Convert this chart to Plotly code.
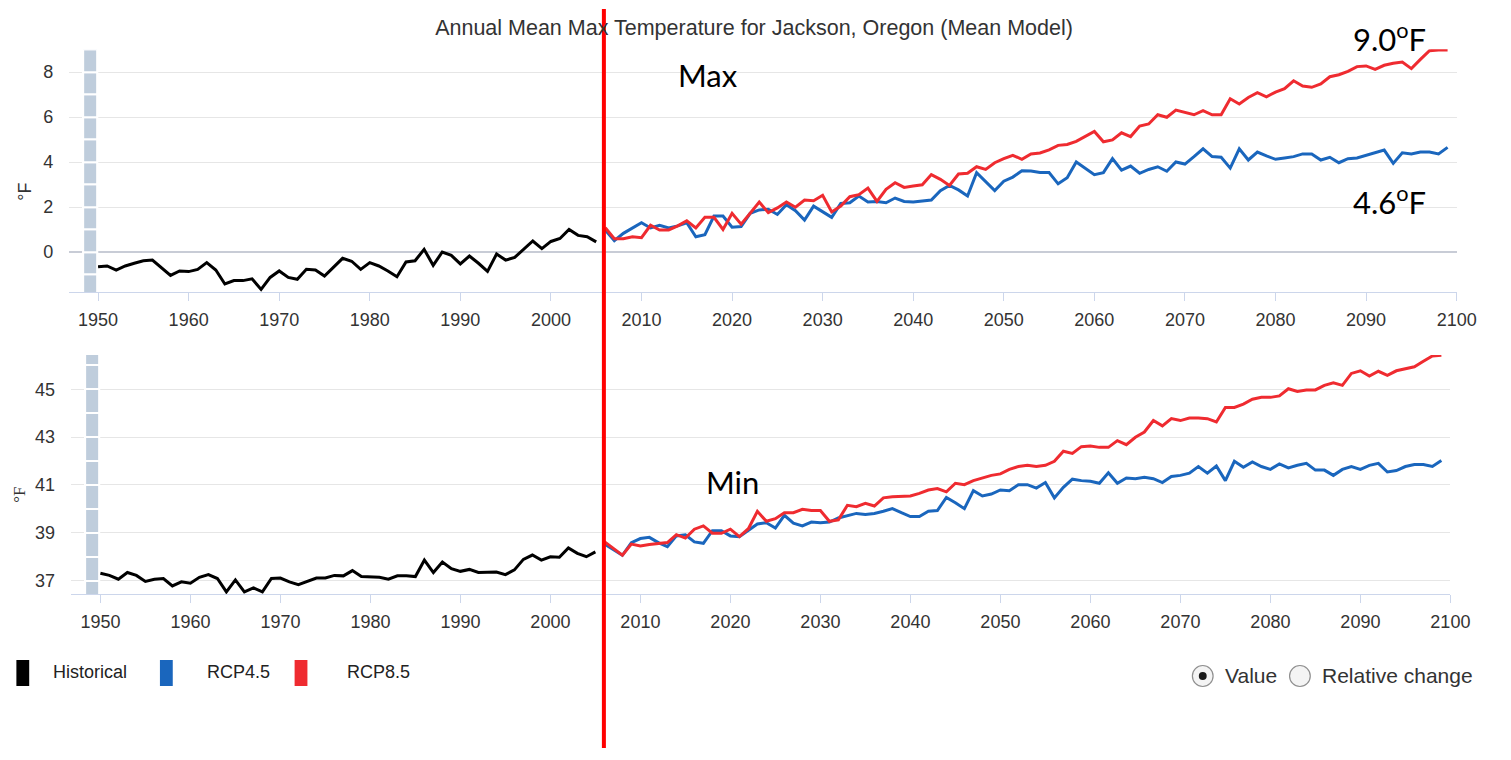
import math
import plotly.graph_objects as go

# ---------------- data ----------------
years_hist = list(range(1950, 2006))
years_proj = list(range(2006, 2100))
x_ticks = list(range(1950, 2101, 10))

tmax_hist = [-0.65, -0.62, -0.80, -0.62, -0.50, -0.39, -0.36, -0.70, -1.04, -0.84,
             -0.87, -0.77, -0.47, -0.80, -1.42, -1.27, -1.27, -1.19, -1.66, -1.13,
             -0.84, -1.13, -1.21, -0.77, -0.80, -1.07, -0.68, -0.28, -0.41, -0.77,
             -0.47, -0.62, -0.84, -1.10, -0.44, -0.39, 0.12, -0.59, 0.00, -0.15,
             -0.53, -0.18, -0.50, -0.86, -0.09, -0.36, -0.24, 0.12, 0.49, 0.15,
             0.47, 0.60, 1.00, 0.74, 0.68, 0.45]

tmax_rcp45 = [0.98, 0.50, 0.83, 1.08, 1.30, 1.07, 1.19, 1.07, 1.16, 1.30,
              0.68, 0.77, 1.60, 1.60, 1.10, 1.13, 1.72, 1.87, 1.90, 1.67,
              2.10, 1.84, 1.42, 2.04, 1.78, 1.54, 2.16, 2.19, 2.49, 2.22,
              2.25, 2.19, 2.40, 2.25, 2.22, 2.28, 2.31, 2.73, 2.96, 2.76,
              2.49, 3.53, 3.13, 2.73, 3.15, 3.33, 3.61, 3.60, 3.53, 3.53,
              3.03, 3.30, 4.00, 3.72, 3.44, 3.53, 4.15, 3.64, 3.82, 3.50,
              3.67, 3.79, 3.59, 4.00, 3.91, 4.24, 4.59, 4.24, 4.21, 3.73,
              4.59, 4.09, 4.44, 4.27, 4.12, 4.18, 4.24, 4.36, 4.36, 4.09,
              4.21, 3.97, 4.15, 4.18, 4.30, 4.41, 4.53, 3.94, 4.41, 4.36,
              4.44, 4.44, 4.36, 4.65]

tmax_rcp85 = [1.08, 0.59, 0.59, 0.68, 0.64, 1.19, 0.98, 0.98, 1.16, 1.39,
              1.07, 1.54, 1.54, 1.00, 1.72, 1.24, 1.72, 2.22, 1.75, 1.96,
              2.22, 1.99, 2.31, 2.28, 2.52, 1.78, 2.04, 2.46, 2.55, 2.84,
              2.25, 2.79, 3.08, 2.87, 2.93, 2.99, 3.44, 3.23, 2.96, 3.47,
              3.50, 3.79, 3.67, 3.97, 4.15, 4.30, 4.12, 4.36, 4.40, 4.54,
              4.74, 4.78, 4.92, 5.13, 5.36, 4.90, 4.98, 5.30, 5.13, 5.60,
              5.69, 6.10, 5.99, 6.31, 6.19, 6.10, 6.28, 6.10, 6.10, 6.81,
              6.58, 6.87, 7.08, 6.90, 7.11, 7.26, 7.61, 7.38, 7.32, 7.47,
              7.79, 7.88, 8.03, 8.24, 8.27, 8.12, 8.30, 8.39, 8.44, 8.15,
              8.56, 8.95, 8.98, 8.98]

tmin_hist = [37.31, 37.22, 37.06, 37.34, 37.22, 36.97, 37.06, 37.09, 36.78, 36.95,
             36.89, 37.14, 37.25, 37.09, 36.53, 37.03, 36.53, 36.70, 36.53, 37.09,
             37.11, 36.95, 36.83, 36.97, 37.11, 37.11, 37.22, 37.20, 37.42, 37.17,
             37.17, 37.14, 37.06, 37.20, 37.20, 37.17, 37.86, 37.34, 37.78, 37.50,
             37.39, 37.47, 37.34, 37.34, 37.36, 37.25, 37.45, 37.89, 38.07, 37.86,
             38.00, 37.98, 38.37, 38.14, 38.00, 38.20]

tmin_rcp45 = [38.53, 38.28, 38.06, 38.59, 38.76, 38.81, 38.59, 38.42, 38.87, 38.92,
              38.62, 38.56, 39.09, 39.09, 38.87, 38.84, 39.12, 39.37, 39.42, 39.20,
              39.73, 39.40, 39.29, 39.45, 39.42, 39.45, 39.62, 39.73, 39.81, 39.76,
              39.81, 39.90, 40.01, 39.84, 39.68, 39.68, 39.90, 39.93, 40.48, 40.26,
              40.01, 40.76, 40.54, 40.62, 40.79, 40.76, 41.01, 41.01, 40.87, 41.10,
              40.46, 40.90, 41.24, 41.18, 41.15, 41.07, 41.51, 41.07, 41.29, 41.26,
              41.32, 41.26, 41.10, 41.35, 41.40, 41.49, 41.77, 41.49, 41.79, 41.18,
              41.99, 41.74, 41.96, 41.77, 41.65, 41.88, 41.71, 41.82, 41.90, 41.62,
              41.62, 41.40, 41.65, 41.77, 41.65, 41.82, 41.90, 41.54, 41.60, 41.77,
              41.85, 41.85, 41.77, 42.02]

tmin_rcp85 = [38.63, 38.35, 38.06, 38.53, 38.45, 38.51, 38.56, 38.59, 38.92, 38.78,
              39.15, 39.29, 38.98, 38.98, 39.15, 38.84, 39.17, 39.90, 39.48, 39.59,
              39.84, 39.84, 39.98, 39.93, 39.93, 39.48, 39.54, 40.15, 40.09, 40.23,
              40.12, 40.46, 40.51, 40.54, 40.54, 40.65, 40.79, 40.85, 40.71, 41.07,
              41.01, 41.18, 41.29, 41.40, 41.46, 41.65, 41.77, 41.82, 41.77, 41.82,
              41.99, 42.41, 42.32, 42.60, 42.63, 42.57, 42.57, 42.85, 42.68, 42.99,
              43.21, 43.69, 43.47, 43.77, 43.69, 43.80, 43.80, 43.77, 43.63, 44.24,
              44.24, 44.38, 44.58, 44.66, 44.66, 44.72, 45.02, 44.91, 44.97, 44.97,
              45.16, 45.27, 45.16, 45.66, 45.77, 45.55, 45.75, 45.58, 45.77, 45.86,
              45.94, 46.17, 46.39, 46.42]

series_names = ["Historical", "RCP4.5", "RCP8.5"]
series_colors = ["#000000", "#1a66bd", "#ef2b30"]

top_range = [-1.79, 9.01]
bot_range = [36.43, 46.43]

# ---------------- figure ----------------
# the page body has an 8px margin, so the figure is sized to fit the window
OFF = 8
FW, FH = 1490, 740
fig = go.Figure()


def px_x(p):
    return (p - OFF) / FW


def px_y(p):
    return 1 - (p - OFF) / FH


# band columns at the left edge of each panel
for yref, xref, rng in [("y", "x", top_range), ("y2", "x2", bot_range)]:
    bases = list(range(math.floor(rng[0]), math.ceil(rng[1])))
    fig.add_trace(go.Bar(
        x=[1949.1] * len(bases), y=[1] * len(bases), base=bases, width=1.5,
        marker=dict(color="#bfcddc", line=dict(color="white", width=2)),
        xaxis=xref, yaxis=yref, showlegend=False, hoverinfo="skip"))

panels = [
    ("x", "y", tmax_hist, tmax_rcp45, tmax_rcp85),
    ("x2", "y2", tmin_hist, tmin_rcp45, tmin_rcp85),
]
for xa, ya, h, r45, r85 in panels:
    for name, col, xs, ys in [
        (series_names[0], series_colors[0], years_hist, h),
        (series_names[1], series_colors[1], years_proj, r45),
        (series_names[2], series_colors[2], years_proj, r85),
    ]:
        fig.add_trace(go.Scatter(
            x=xs, y=ys, mode="lines", name=name,
            line=dict(color=col, width=3), cliponaxis=False,
            xaxis=xa, yaxis=ya, showlegend=False))

tickfont = dict(family="Liberation Sans, Arial, sans-serif", size=18, color="#333333")

xcommon = dict(
    tickmode="array", tickvals=x_ticks, ticktext=[str(t) for t in x_ticks],
    showgrid=False, zeroline=False, showline=True, linecolor="#ccd6eb", linewidth=1,
    ticks="outside", ticklen=8, tickcolor="#ccd6eb", tickwidth=1,
    tickfont=tickfont, ticklabelstandoff=3, fixedrange=True)

ycommon = dict(
    showgrid=True, gridcolor="#e6e6e6", gridwidth=1, showline=False, ticks="",
    tickfont=tickfont, ticklabelstandoff=15, fixedrange=True)

fig.update_layout(
    width=FW, height=FH, autosize=False,
    margin=dict(l=0, r=0, t=0, b=0),
    paper_bgcolor="white", plot_bgcolor="white",
    barmode="overlay", bargap=0,
    showlegend=False,
    title=dict(text="Annual Mean Max Temperature for Jackson, Oregon (Mean Model)",
               x=px_x(754), xanchor="center", y=px_y(27), yanchor="middle",
               font=dict(family="Liberation Sans, Arial, sans-serif", size=21.5, color="#333333")),
    xaxis=dict(domain=[px_x(70), px_x(1477)], range=[1946.81, 2100.07], anchor="y", **xcommon),
    yaxis=dict(domain=[px_y(292.3), px_y(49.3)], range=top_range, anchor="x",
               tickmode="array", tickvals=[0, 2, 4, 6, 8],
               zeroline=True, zerolinecolor="#c8ccd6", zerolinewidth=2, **ycommon),
    xaxis2=dict(domain=[px_x(72), px_x(1470)], range=[1946.75, 2100.0], anchor="y2", **xcommon),
    yaxis2=dict(domain=[px_y(594.3), px_y(355)], range=bot_range, anchor="x2",
                tickmode="array", tickvals=[37, 39, 41, 43, 45],
                zeroline=False, **ycommon),
)

shapes = []
annotations = []

# axis titles
annotations.append(dict(text="°F", x=px_x(25), y=px_y(192), xref="paper", yref="paper",
                        xanchor="center", yanchor="middle", showarrow=False, textangle=-90,
                        font=dict(family="Liberation Sans, Arial, sans-serif", size=18, color="#333333")))
annotations.append(dict(text="°F", x=px_x(19), y=px_y(495), xref="paper", yref="paper",
                        xanchor="center", yanchor="middle", showarrow=False, textangle=-90,
                        font=dict(family="Liberation Serif, serif", size=17, color="#333333")))

# callouts
big = dict(family="Lato, Carlito, sans-serif", size=31, color="#000000")
callouts = [
    dict(text="Max", x=px_x(685), y=px_y(75), xanchor="left", yanchor="middle"),
    dict(text="Min", x=px_x(713), y=px_y(482), xanchor="left", yanchor="middle"),
    dict(text="9.0<sup>o</sup>F", x=px_x(1369), y=px_y(37), xanchor="left", yanchor="middle"),
    dict(text="4.6<sup>o</sup>F", x=px_x(1369), y=px_y(200), xanchor="left", yanchor="middle"),
]
for a in callouts:
    a.update(xref="paper", yref="paper", showarrow=False, font=big)
annotations += callouts

# red divider line
shapes.append(dict(type="line", xref="paper", yref="paper",
                   x0=px_x(612), x1=px_x(612), y0=px_y(9), y1=0,
                   line=dict(color="#ff0000", width=4)))

# legend (manual, rectangle swatches)
legend_font = dict(family="Liberation Sans, Arial, sans-serif", size=18, color="#222222")
swatch_x = [23.0, 168.5, 305.0]
text_x = [52.0, 207.6, 350.0]
for name, col, sx, tx in zip(series_names, series_colors, swatch_x, text_x):
    shapes.append(dict(type="rect", xref="paper", yref="paper",
                       x0=px_x(sx - 6.5), x1=px_x(sx + 6.5), y0=px_y(686), y1=px_y(660),
                       fillcolor=col, line=dict(width=0)))
    annotations.append(dict(text=name, x=px_x(tx), y=px_y(672), xref="paper", yref="paper",
                            xanchor="left", yanchor="middle", showarrow=False, font=legend_font))

# radio buttons
radio_font = dict(family="Liberation Sans, Arial, sans-serif", size=21, color="#333333")
for cx, label, lx, sel in [(1219, "Value", 1240, True), (1317.5, "Relative change", 1338.3, False)]:
    r = 10.5
    shapes.append(dict(type="circle", xref="paper", yref="paper",
                       x0=px_x(cx - r), x1=px_x(cx + r), y0=px_y(676 + r), y1=px_y(676 - r),
                       fillcolor="#f4f4f4", line=dict(color="#8f8f8f", width=1.2)))
    if sel:
        rr = 4
        shapes.append(dict(type="circle", xref="paper", yref="paper",
                           x0=px_x(cx - rr), x1=px_x(cx + rr), y0=px_y(676 + rr), y1=px_y(676 - rr),
                           fillcolor="#1a1a1a", line=dict(width=0)))
    annotations.append(dict(text=label, x=px_x(lx), y=px_y(675), xref="paper", yref="paper",
                            xanchor="left", yanchor="middle", showarrow=False, font=radio_font))

fig.update_layout(shapes=shapes, annotations=annotations)

fig.write_html("out.html", include_plotlyjs=True, config={"displayModeBar": False})
